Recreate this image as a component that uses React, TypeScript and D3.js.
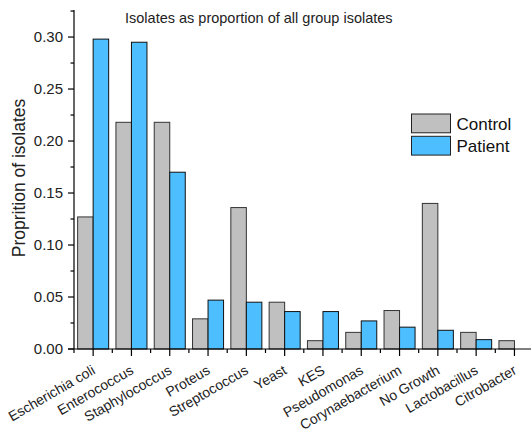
import React from "react";
import * as d3 from "d3";

const categories = [
  "Escherichia coli", "Enterococcus", "Staphylococcus", "Proteus", "Streptococcus",
  "Yeast", "KES", "Pseudomonas", "Corynaebacterium", "No Growth", "Lactobacillus", "Citrobacter",
];
const control = [0.127, 0.218, 0.218, 0.029, 0.136, 0.045, 0.008, 0.016, 0.037, 0.140, 0.016, 0.008];
const patient = [0.298, 0.295, 0.170, 0.047, 0.045, 0.036, 0.036, 0.027, 0.021, 0.018, 0.009, 0];
const yTicks = [0, 0.05, 0.1, 0.15, 0.2, 0.25, 0.3];
const seriesNames = ["Control", "Patient"];
const colors = ["#c0c0c0", "#4dbeff"];

const FONT = "'Liberation Sans', Arial, sans-serif";

export default function App() {
  const W = 531, H = 429;
  const left = 74, right = 533.6, top = 10, bottom = 349;
  const x = d3.scaleBand<string>().domain(categories).range([left, right]).padding(0);
  const y = d3.scaleLinear().domain([0, 0.326]).range([bottom, top]);
  const bw = x.bandwidth();
  const barW = bw * 0.405;
  const minor = d3.range(0.025, 0.326, 0.05);
  return (
    <svg width={W} height={H} style={{ position: "absolute", left: 0, top: 0 }} fontFamily={FONT}>
      <rect width={W} height={H} fill="#fff" />
      {categories.map((c, i) => {
        const cx = x(c)! + bw / 2;
        return (
          <g key={c}>
            <rect x={cx - barW} y={y(control[i])} width={barW} height={y(0) - y(control[i])}
              fill={colors[0]} stroke="#333" strokeWidth={1} />
            {patient[i] > 0 && (
              <rect x={cx} y={y(patient[i])} width={barW} height={y(0) - y(patient[i])}
                fill={colors[1]} stroke="#111" strokeWidth={1} />
            )}
          </g>
        );
      })}
      {/* y axis */}
      <line x1={left} x2={left} y1={top} y2={bottom} stroke="#000" strokeWidth={1.2} />
      {yTicks.map((t) => (
        <g key={t}>
          <line x1={left - 6} x2={left} y1={y(t)} y2={y(t)} stroke="#000" strokeWidth={1.2} />
          <text x={left - 11} y={y(t)} dy="0.36em" textAnchor="end" fontSize={15} fill="#222">
            {d3.format(".2f")(t)}
          </text>
        </g>
      ))}
      {minor.map((t) => (
        <line key={t} x1={left - 3.5} x2={left} y1={y(t)} y2={y(t)} stroke="#000" strokeWidth={1.2} />
      ))}
      {/* x axis */}
      <line x1={left - 6} x2={W} y1={bottom} y2={bottom} stroke="#000" strokeWidth={1.2} />
      {categories.map((c) => {
        const cx = x(c)! + bw / 2;
        return (
          <g key={c}>
            <line x1={cx} x2={cx} y1={bottom} y2={bottom + 7} stroke="#000" strokeWidth={1.2} />
            <line x1={x(c)!} x2={x(c)!} y1={bottom} y2={bottom + 4} stroke="#000" strokeWidth={1.2} />
            <text transform={`translate(${cx + 3},${bottom + 24}) rotate(-30)`} textAnchor="end"
              fontSize={14} fill="#222">{c}</text>
          </g>
        );
      })}
      <text transform={`translate(24.5,178) rotate(-90)`} textAnchor="middle"
        fontSize={17.5} fill="#222">Proprition of isolates</text>
      <text x={125} y={23} fontSize={14.5} fill="#222">Isolates as proportion of all group isolates</text>
      {seriesNames.map((s, i) => (
        <g key={s}>
          <rect x={411.5} y={114 + i * 22.3} width={39} height={18.8} fill={colors[i]} stroke="#222" strokeWidth={1} />
          <text x={456.5} y={129.5 + i * 22} fontSize={17} fill="#111">{s}</text>
        </g>
      ))}
    </svg>
  );
}
